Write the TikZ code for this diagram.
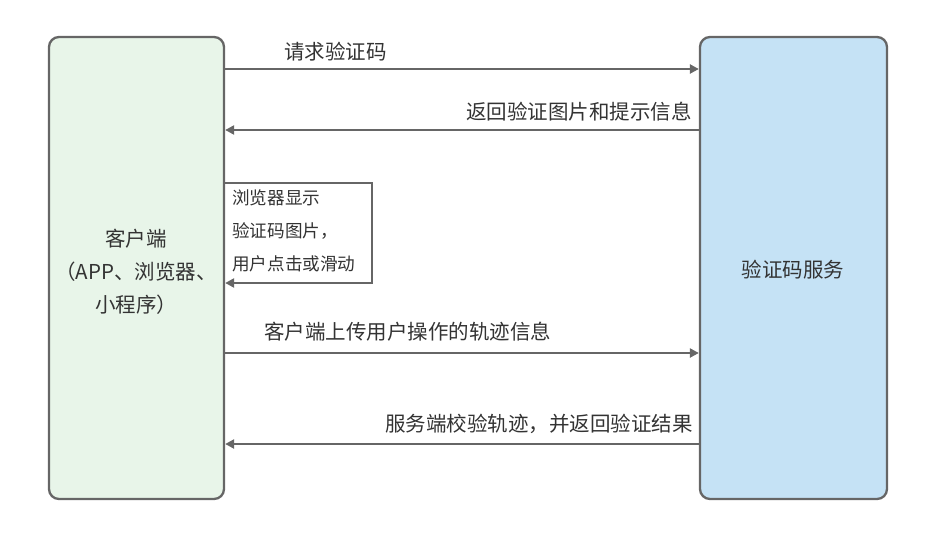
\documentclass[tikz,border=0pt]{standalone}
\usepackage{fontspec}
\setmainfont{Noto Sans CJK SC}
\definecolor{colline}{RGB}{102,102,102}
\definecolor{coltext}{RGB}{51,51,51}
\definecolor{colclient}{RGB}{232,245,233}
\definecolor{colserver}{RGB}{197,226,245}
\usetikzlibrary{
	arrows.meta,
	positioning
}
\tikzset{
	>={Triangle[length=9pt,width=9pt]},
	party/.style={draw=colline, line width=2.3pt, rounded corners=10pt, minimum height=462pt, inner sep=0pt},
	msg/.style={->, draw=colline, line width=2.3pt},
	msglabel/.style={text=coltext, font=\fontsize{20.5}{33}\selectfont, inner sep=0pt},
	looplabel/.style={text=coltext, font=\fontsize{17.6}{33}\selectfont, align=left, inner sep=0pt}
}

\begin{document}
\begin{tikzpicture}[x=1pt, y=-1pt]
	\useasboundingbox (0,0) rectangle (931,538);
	% the two parties
	\node[party, fill=colclient, minimum width=175pt] (client) at (136.5,268) {};
	\node[party, fill=colserver, minimum width=187pt] (server) at (793.5,268) {};
	\node[msglabel, align=center] (clientname) at (136,272) {客户端\\（APP、浏览器、\\小程序）};
	\node[msglabel] (servername) at (793,270) {验证码服务};
	% rows of the messages
	\coordinate (r1) at (0,69);
	\coordinate (r2) at (0,130);
	\coordinate (r3) at (0,183);
	\coordinate (loopright) at (372,283);
	\coordinate (r5) at (0,353);
	\coordinate (r6) at (0,444);
	\draw[msg] (client.east |- r1) -- (server.west |- r1);
	\node[msglabel, anchor=west] (l1) at (284,52) {请求验证码};
	\draw[msg] (server.west |- r2) -- (client.east |- r2);
	\node[msglabel, anchor=east] (l2) at (692,112) {返回验证图片和提示信息};
	\draw[msg] (client.east |- r3) -| (loopright) -- (client.east |- loopright);
	\node[looplabel, anchor=west] (l3) at (232,231) {浏览器显示\\验证码图片，\\用户点击或滑动};
	\draw[msg] (client.east |- r5) -- (server.west |- r5);
	\node[msglabel, anchor=west] (l4) at (264,332) {客户端上传用户操作的轨迹信息};
	\draw[msg] (server.west |- r6) -- (client.east |- r6);
	\node[msglabel, anchor=east] (l5) at (693,424) {服务端校验轨迹，并返回验证结果};
\end{tikzpicture}
\end{document}
